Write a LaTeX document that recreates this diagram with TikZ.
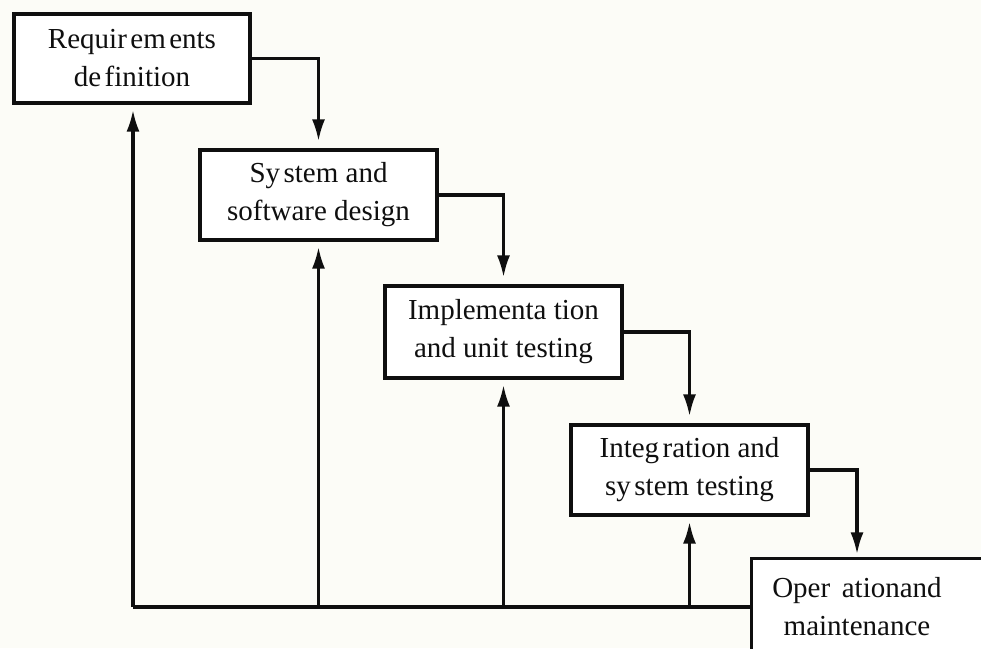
\documentclass[tikz,border=0pt]{standalone}
\usepackage{fontspec}
\setmainfont{Liberation Serif}
\usetikzlibrary{arrows.meta,calc}
\definecolor{paper}{RGB}{252,252,247}
\definecolor{ink}{RGB}{15,15,15}
\tikzset{
  phase/.style={draw=ink, line width=3.2pt, fill=white, align=center,
    text=ink, inner sep=0pt,
    font=\fontsize{29}{38}\selectfont},
  flow/.style={draw=ink, line width=3.2pt,
    -{Latex[length=22pt,width=13pt]}},
  link/.style={draw=ink, line width=3.2pt}
}
\begin{document}
\begin{tikzpicture}[x=1pt,y=-1pt]
  \useasboundingbox (0,0) rectangle (981,648);
  \fill[paper] (0,0) rectangle (981,648);
  \clip (0,0) rectangle (981,648);

  % waterfall phases
  \node[phase, minimum width=236pt, minimum height=89pt] (b1) at (132,58.5)
    {Requir\hspace{.12em}em\hspace{.12em}ents\\de\hspace{.12em}finition};
  \node[phase, minimum width=237pt, minimum height=90pt] (b2) at (318.5,195)
    {Sy\hspace{.12em}stem and\\software design};
  \node[phase, minimum width=237pt, minimum height=92pt] (b3) at (503.5,332)
    {Implementa tion\\and unit testing};
  \node[phase, minimum width=237pt, minimum height=90pt] (b4) at (689.5,470)
    {Integ\hspace{.12em}ration and\\sy\hspace{.12em}stem testing};

  % last phase runs off the page: only its left and top edges show
  \node[phase, draw=none, fill=none, minimum width=208pt, minimum height=94pt]
    (b5) at (857,607) {};
  \fill[white] (b5.north west) rectangle ($(b5.south east)+(40,10)$);
  \draw[link] ($(b5.south west)+(0,10)$) -- (b5.north west)
    -- ($(b5.north east)+(40,0)$);
  \node[phase, draw=none, fill=none, minimum width=208pt, minimum height=94pt]
    (b5text) at (b5) {Oper\hspace{.4em}ationand\\maintenance};

  % forward flow
  \draw[flow, shorten >=7pt] (b1.east) -| (b2.north);
  \draw[flow, shorten >=7pt] (b2.east) -| (b3.north);
  \draw[flow, shorten >=7pt] (b3.east) -| (b4.north);
  \draw[flow, shorten >=4pt] (b4.east) -| (b5.north);

  % feedback to earlier phases
  \coordinate (fb) at (133,607);
  \draw[link] (b5.west) -- (fb);
  \draw[flow, shorten >=5pt] (fb) -- (b1.south -| fb);
  \draw[flow, shorten >=5pt] (b2.south |- fb) -- (b2.south);
  \draw[flow, shorten >=5pt] (b3.south |- fb) -- (b3.south);
  \draw[flow, shorten >=5pt] (b4.south |- fb) -- (b4.south);
\end{tikzpicture}
\end{document}
